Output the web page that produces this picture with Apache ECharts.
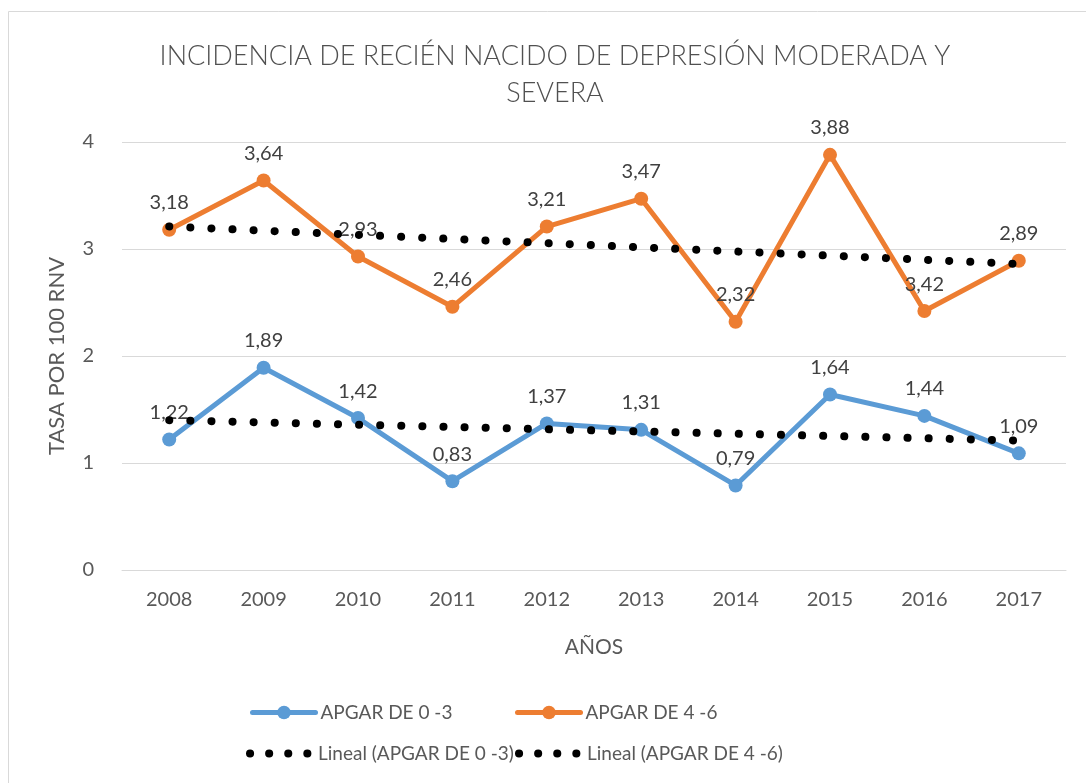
<!DOCTYPE html>
<html>
<head>
<meta charset="utf-8">
<script src="https://cdn.jsdelivr.net/npm/echarts@6/dist/echarts.min.js"></script>
<style>
  html, body { margin: 0; padding: 0; background: #fff; }
  #chart { width: 1086px; height: 783px; }
</style>
</head>
<body>
<div id="chart"></div>
<script>
var years = ['2008', '2009', '2010', '2011', '2012', '2013', '2014', '2015', '2016', '2017'];
var apgar03 = [1.22, 1.89, 1.42, 0.83, 1.37, 1.31, 0.79, 1.64, 1.44, 1.09];
var apgar46 = [3.18, 3.64, 2.93, 2.46, 3.21, 3.47, 2.32, 3.88, 2.42, 2.89];
// label texts as printed on the chart (2016 label reads 3,42)
var apgar46Labels = ['3,18', '3,64', '2,93', '2,46', '3,21', '3,47', '2,32', '3,88', '3,42', '2,89'];
// trend lines: value at first and last year
var trend03 = [1.40, 1.21];
var trend46 = [3.21, 2.86];

var FONT = 'Lato, "Open Sans", sans-serif';
var GREY = '#595959';

function trendData(ends) {
  var d = [];
  for (var i = 0; i < years.length; i++) d.push(null);
  d[0] = ends[0];
  d[years.length - 1] = ends[1];
  return d;
}

function commaLabel(p) {
  return String(p.value.toFixed(2)).replace('.', ',');
}

var dotStyle = { color: '#000', width: 8, type: [0.1, 21], cap: 'round' };
var legendText = { fontSize: 19, color: GREY, fontFamily: FONT };

var chart = echarts.init(document.getElementById('chart'));
var option = {
  animation: false,
  textStyle: { fontFamily: FONT },
  title: {
    text: 'INCIDENCIA DE RECIÉN NACIDO DE DEPRESIÓN MODERADA Y\nSEVERA',
    left: 550,
    top: 33,
    textAlign: 'center',
    textStyle: { fontFamily: FONT, fontWeight: 300, fontSize: 27, color: '#505050', lineHeight: 37 }
  },
  graphic: [{
    type: 'rect',
    shape: { x: 8.5, y: 11.5, width: 1100, height: 800 },
    style: { fill: 'none', stroke: '#D9D9D9', lineWidth: 1 },
    silent: true
  }],
  legend: [
    { data: ['APGAR DE 0 -3'], left: 250, top: 703, padding: 0, itemWidth: 63, itemHeight: 17,
      lineStyle: { width: 5, cap: 'round' }, textStyle: legendText },
    { data: ['APGAR DE 4 -6'], left: 515, top: 703, padding: 0, itemWidth: 63, itemHeight: 17,
      lineStyle: { width: 5, cap: 'round' }, textStyle: legendText },
    { data: ['Lineal (APGAR DE 0 -3)'], left: 246, top: 744, padding: 0, itemWidth: 63, itemHeight: 14,
      lineStyle: { width: 8, type: [0.1, 19], cap: 'round' }, itemStyle: { opacity: 0 },
      textStyle: legendText },
    { data: ['Lineal (APGAR DE 4 -6)'], left: 515, top: 744, padding: 0, itemWidth: 63, itemHeight: 14,
      lineStyle: { width: 8, type: [0.1, 19], cap: 'round' }, itemStyle: { opacity: 0 },
      textStyle: legendText }
  ],
  grid: { left: 122, right: 20, top: 142, bottom: 213, containLabel: false },
  xAxis: {
    type: 'category',
    data: years,
    boundaryGap: true,
    name: 'AÑOS',
    nameLocation: 'middle',
    nameGap: 67,
    nameTextStyle: { fontSize: 21, color: GREY, fontFamily: FONT },
    axisLine: { show: true, lineStyle: { color: '#D9D9D9', width: 1 } },
    axisTick: { show: false },
    axisLabel: { fontSize: 20, color: GREY, margin: 20, fontFamily: FONT }
  },
  yAxis: {
    type: 'value',
    min: 0,
    max: 4,
    interval: 1,
    name: 'TASA POR 100 RNV',
    nameLocation: 'middle',
    nameGap: 54,
    nameTextStyle: { fontSize: 22, color: GREY, fontFamily: FONT },
    axisLine: { show: false },
    axisTick: { show: false },
    axisLabel: { fontSize: 20, color: GREY, margin: 28, fontFamily: FONT },
    splitLine: { lineStyle: { color: '#D9D9D9', width: 1 } }
  },
  series: [
    {
      name: 'APGAR DE 0 -3',
      type: 'line',
      data: apgar03,
      symbol: 'circle',
      symbolSize: 14,
      color: '#5B9BD5',
      lineStyle: { width: 5, color: '#5B9BD5' },
      itemStyle: { color: '#5B9BD5' },
      label: { show: true, position: 'top', distance: 10, fontSize: 20, color: '#404040',
        fontFamily: FONT, formatter: commaLabel },
      z: 2
    },
    {
      name: 'APGAR DE 4 -6',
      type: 'line',
      data: apgar46,
      symbol: 'circle',
      symbolSize: 14,
      color: '#ED7D31',
      lineStyle: { width: 5, color: '#ED7D31' },
      itemStyle: { color: '#ED7D31' },
      label: { show: true, position: 'top', distance: 10, fontSize: 20, color: '#404040',
        fontFamily: FONT, formatter: function (p) { return apgar46Labels[p.dataIndex]; } },
      z: 2
    },
    {
      name: 'Lineal (APGAR DE 0 -3)',
      type: 'line',
      data: trendData(trend03),
      connectNulls: true,
      symbol: 'none',
      color: '#000',
      lineStyle: dotStyle,
      z: 3
    },
    {
      name: 'Lineal (APGAR DE 4 -6)',
      type: 'line',
      data: trendData(trend46),
      connectNulls: true,
      symbol: 'none',
      color: '#000',
      lineStyle: dotStyle,
      z: 3
    }
  ]
};
chart.setOption(option);
</script>
</body>
</html>
